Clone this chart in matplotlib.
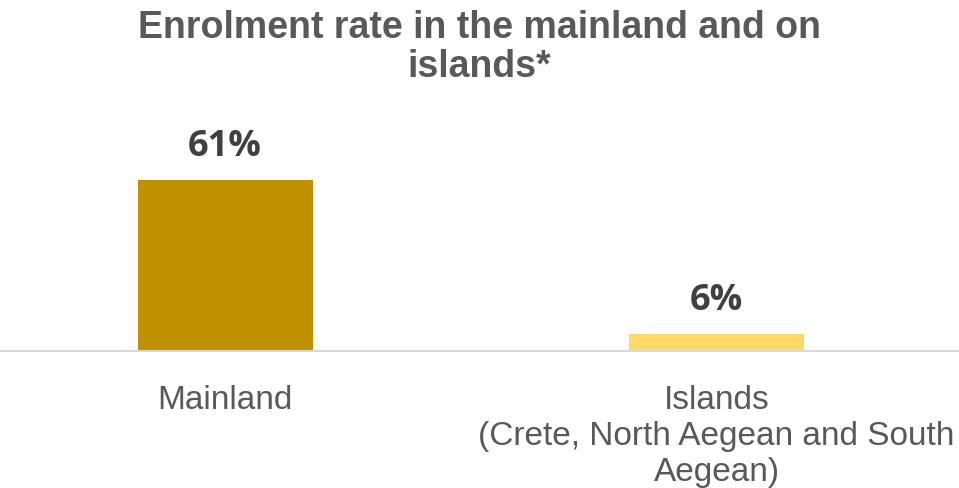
import matplotlib.pyplot as plt

categories = ["Mainland", "Islands\n(Crete, North Aegean and South\nAegean)"]
values = [61, 6]
colors = ["#BF9000", "#FFD966"]

plt.rcParams['font.family'] = ['Liberation Sans', 'DejaVu Sans']

fig = plt.figure(figsize=(9.59, 4.89), dpi=100)
ax = fig.add_axes([0, 0.28, 1, 0.515])

x = list(range(len(values)))
bars = ax.bar(x, values, width=0.356, color=colors)

for b, v in zip(bars, values):
    ax.text(b.get_x() + b.get_width() / 2, v + 6, f"{v}%", ha='center', va='bottom',
            fontsize=26, fontweight='bold', color='#404040', family=['Open Sans', 'DejaVu Sans'])

ax.set_xlim(-0.458, 1.493)
ax.set_ylim(0, 90)
ax.set_xticks(x)
ax.set_xticklabels(categories, fontsize=24, color='#595959', linespacing=1.2)
ax.tick_params(axis='x', length=0, pad=24)
ax.set_yticks([])
for s in ['top', 'left', 'right']:
    ax.spines[s].set_visible(False)
ax.spines['bottom'].set_color('#D9D9D9')
ax.spines['bottom'].set_linewidth(1.5)

fig.text(0.5, 0.98, "Enrolment rate in the mainland and on\nislands*", ha='center', va='top',
         fontsize=27, fontweight='bold', color='#595959', linespacing=1.1)

fig.savefig("out.png", dpi=100)
